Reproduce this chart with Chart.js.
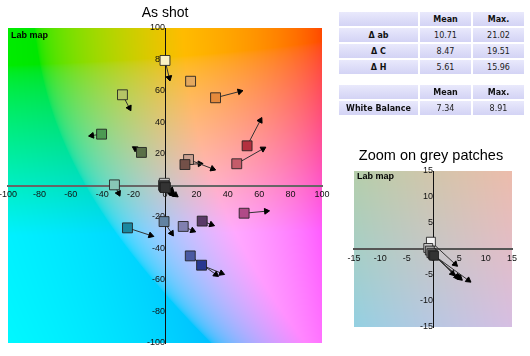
<!DOCTYPE html>
<html><head><meta charset="utf-8">
<script src="https://cdn.jsdelivr.net/npm/chart.js@4/dist/chart.umd.min.js"></script>
<style>
html,body{margin:0;padding:0;background:#fff;width:530px;height:356px;overflow:hidden;position:relative;font-family:"Liberation Sans",Arial,sans-serif}
canvas{position:absolute}
#main{left:0;top:0}
#zoom{left:330px;top:140px}
.title{position:absolute;font-size:14px;line-height:14px;color:#000;white-space:nowrap;transform:translateX(-50%)}
.labmap{position:absolute;font:bold 9px/10px "Liberation Sans",Arial,sans-serif;color:#000}
table{position:absolute;border-collapse:separate;border-spacing:2px;font-family:"DejaVu Sans",Verdana,sans-serif;font-size:8px;color:#222}
td,th{height:14px;padding:0;text-align:center;vertical-align:middle;background:linear-gradient(#e9e9fc,#d3d3f5)}
th{font-weight:bold;color:#111}
td.lbl{font-weight:bold;color:#111}
</style></head>
<body>
<canvas id="main" width="330" height="356"></canvas>
<canvas id="zoom" width="200" height="210"></canvas>
<div class="title" style="left:165px;top:5px">As shot</div>
<div class="title" style="left:431px;top:148px;font-size:14.5px">Zoom on grey patches</div>
<div class="labmap" style="left:11px;top:30px">Lab map</div>
<div class="labmap" style="left:357px;top:171px">Lab map</div>
<table id="t1" style="left:337px;top:10px"></table>
<table id="t2" style="left:337px;top:83px"></table>
<script>
// ---- colour patches (reference a,b  ->  measured a,b) ----
const patchNames = ['yellow','orange yellow','orange','yellow green','green','foliage','red','moderate red','light skin','dark skin','bluish green','magenta','purple','blue flower','blue sky','cyan','blue','dark blue'];
const refA  = [0, 16.3, 32.2, -27.1, -40.4, -15.0, 52.3, 45.7, 15.0, 12.7, -32.2, 50.4, 23.7, 11.6, -0.6, -23.9, 16.1, 23.3];
const refB  = [79.4, 66.2, 55.7, 57.6, 32.6, 21.0, 25.2, 13.8, 16.5, 13.3, 0.4, -17.6, -22.6, -26.0, -22.9, -26.9, -44.7, -50.6];
const measA = [2.7, 16.8, 47.6, -22.7, -46.6, -19.0, 60.7, 62.4, 30.3, 22.2, -29.6, 64.5, 29.6, 17.6, 4.2, -9.1, 32.4, 36.0];
const measB = [68.4, 65.4, 59.7, 49.3, 31.7, 23.5, 41.3, 23.3, 10.6, 13.8, -4.9, -16.3, -24.8, -28.6, -30.3, -31.7, -56.5, -55.7];
const patchColors = ['#fbf1c4','#e3a85e','#e58a3c','#b5c466','#4c9a52','#5a7048','#b3303f','#c45c6a','#c8a090','#735048','#88c8b6','#b04a88','#5a3a68','#8080b0','#6282a2','#1a88a0','#4a5aa2','#283890'];

// ---- grey patches ----
const greyNames = ['white','neutral 8','neutral 6.5','neutral 5','neutral 3.5','black'];
const greyRefA  = [-0.4, -0.9, -0.6, -0.3, 0.0, 0.2];
const greyRefB  = [1.4, 0.2, -0.3, -0.8, -1.1, -1.3];
const greyMeasA = [4.2, 3.7, 4.5, 5.1, 6.7, 4.8];
const greyMeasB = [-2.9, -4.7, -5.3, -5.6, -6.0, -5.4];
const greyColors = ['#f4f4f4','#c8c8c8','#a0a0a0','#787878','#525252','#333333'];

// ---- axes ----
const mainRange = [-100, 100], mainStep = 20;
const zoomRange = [-15, 15], zoomStep = 5;

// ---- tables ----
const statLabels = ['Δ ab', 'Δ C', 'Δ H'];
const statMean = ['10.71', '8.47', '5.61'];
const statMax = ['21.02', '19.51', '15.96'];
const wbLabels = ['White Balance'];
const wbMean = ['7.34'];
const wbMax = ['8.91'];
const colHeads = ['Mean', 'Max.'];

function buildTable(id, labels, mean, max) {
  const t = document.getElementById(id);
  let h = '<tr><th style="width:79px"></th><th style="width:51px">' + colHeads[0] + '</th><th style="width:51px">' + colHeads[1] + '</th></tr>';
  labels.forEach((l, i) => { h += '<tr><td class="lbl">' + l + '</td><td>' + mean[i] + '</td><td>' + max[i] + '</td></tr>'; });
  t.innerHTML = h;
}
buildTable('t1', statLabels, statMean, statMax);
buildTable('t2', wbLabels, wbMean, wbMax);

// ---- Lab background ----
function labToRgb(L, a, b) {
  const fy = (L + 16) / 116, fx = fy + a / 500, fz = fy - b / 200;
  const d = 6 / 29;
  const f = t => t > d ? t * t * t : 3 * d * d * (t - 4 / 29);
  const X = 0.95047 * f(fx), Y = f(fy), Z = 1.08883 * f(fz);
  const r = 3.2406 * X - 1.5372 * Y - 0.4986 * Z;
  const g = -0.9689 * X + 1.8758 * Y + 0.0415 * Z;
  const bl = 0.0557 * X - 0.2040 * Y + 1.0570 * Z;
  const gam = c => { c = Math.min(1, Math.max(0, c)); return 255 * (c <= 0.0031308 ? 12.92 * c : 1.055 * Math.pow(c, 1 / 2.4) - 0.055); };
  return [gam(r), gam(g), gam(bl)];
}
const labBackground = {
  id: 'labBackground',
  beforeDraw(chart, args, opts) {
    const {ctx, chartArea: ca, scales: {x, y}} = chart;
    const l = Math.round(ca.left), t = Math.round(ca.top);
    const w = Math.round(ca.right) - l, h = Math.round(ca.bottom) - t;
    if (!chart.$labImg || chart.$labImg.width !== w || chart.$labImg.height !== h) {
      const img = ctx.createImageData(w, h);
      for (let j = 0; j < h; j++) {
        const bv = y.getValueForPixel(t + j + 0.5);
        for (let i = 0; i < w; i++) {
          const av = x.getValueForPixel(l + i + 0.5);
          const c = labToRgb(opts.lightness, av, bv);
          const k = (j * w + i) * 4;
          img.data[k] = c[0]; img.data[k + 1] = c[1]; img.data[k + 2] = c[2]; img.data[k + 3] = 255;
        }
      }
      chart.$labImg = img;
    }
    ctx.putImageData(chart.$labImg, l, t);
  }
};

function zeroPad(s) { s.paddingLeft = 0; s.paddingRight = 0; s.paddingTop = 0; s.paddingBottom = 0; }

function arrowRotation(ctx) {
  if (ctx.dataIndex === 0) return 0;
  const ch = ctx.chart, d = ctx.dataset.data;
  const sx = ch.scales.x, sy = ch.scales.y;
  const dx = sx.getPixelForValue(d[1].x) - sx.getPixelForValue(d[0].x);
  const dy = sy.getPixelForValue(d[1].y) - sy.getPixelForValue(d[0].y);
  return Math.atan2(dx, -dy) * 180 / Math.PI;
}

function arrowDatasets(ra, rb, ma, mb, headR) {
  return ra.map((v, i) => ({
    data: [{x: ra[i], y: rb[i]}, {x: ma[i], y: mb[i]}],
    showLine: true,
    borderColor: '#333',
    borderWidth: 1,
    pointStyle: 'triangle',
    pointRadius: [0, headR],
    pointBackgroundColor: '#000',
    pointBorderColor: '#000',
    pointBorderWidth: 1,
    pointRotation: arrowRotation,
    order: 2
  }));
}
function squareDataset(xa, ya, colors, r) {
  return {
    data: xa.map((v, i) => ({x: xa[i], y: ya[i]})),
    showLine: false,
    pointStyle: 'rect',
    pointRadius: r,
    pointBackgroundColor: colors,
    pointBorderColor: 'rgba(30,30,30,0.85)',
    pointBorderWidth: 1,
    order: 1
  };
}

function makeChart(id, range, step, padding, datasets, lightness, xBorder) {
  const tickFont = {family: '"Liberation Sans", Arial, sans-serif', size: 9};
  return new Chart(document.getElementById(id), {
    type: 'scatter',
    data: {datasets},
    plugins: [labBackground],
    options: {
      responsive: false,
      animation: false,
      events: [],
      layout: {padding},
      plugins: {legend: {display: false}, tooltip: {enabled: false}, title: {display: false}, labBackground: {lightness}},
      scales: {
        x: {
          type: 'linear', min: range[0], max: range[1], position: {y: 0}, afterFit: zeroPad,
          grid: {display: false, drawTicks: false},
          border: {display: true, color: xBorder, width: 2},
          ticks: {stepSize: step, autoSkip: false, maxRotation: 0, padding: 4, color: '#111', font: tickFont}
        },
        y: {
          type: 'linear', min: range[0], max: range[1], position: {x: 0}, afterFit: zeroPad,
          grid: {display: false, drawTicks: false},
          border: {display: true, color: '#111', width: 1},
          ticks: {stepSize: step, autoSkip: false, padding: 2, color: '#111', font: tickFont}
        }
      }
    }
  });
}

const mainSets = [
  squareDataset(greyRefA, greyRefB, greyColors, 7),
  squareDataset(refA, refB, patchColors, 7),
  ...arrowDatasets(refA, refB, measA, measB, 3.3),
  ...arrowDatasets(greyRefA, greyRefB, greyMeasA, greyMeasB, 3.3)
];
makeChart('main', mainRange, mainStep, {left: 7, right: 7, top: 28, bottom: 13}, mainSets, 80, '#666');

const zoomSets = [
  squareDataset(greyRefA, greyRefB, greyColors, 6.3),
  ...arrowDatasets(greyRefA, greyRefB, greyMeasA, greyMeasB, 3.3)
];
makeChart('zoom', zoomRange, zoomStep, {left: 24, right: 18, top: 31, bottom: 23}, zoomSets, 80, '#555');
</script>
</body></html>
